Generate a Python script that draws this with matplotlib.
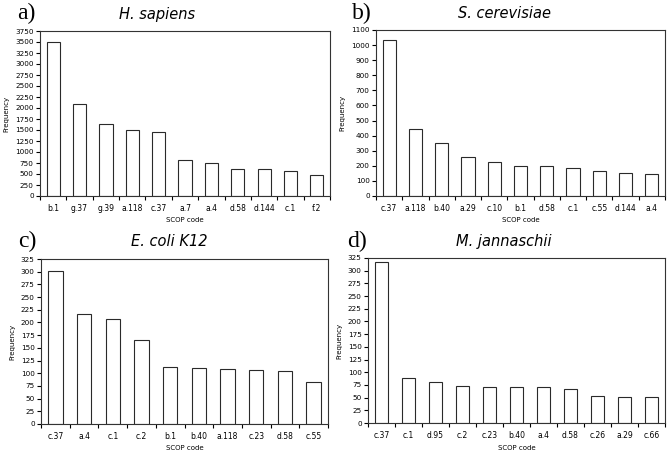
import matplotlib
matplotlib.use("Agg")
import matplotlib.pyplot as plt

# Data
titles = ["H. sapiens", "S. cerevisiae", "E. coli K12", "M. jannaschii"]
panel_labels = ["a)", "b)", "c)", "d)"]

cats_a = ["b.1", "g.37", "g.39", "a.118", "c.37", "a.7", "a.4", "d.58", "d.144", "c.1", "f.2"]
vals_a = [3510, 2090, 1630, 1495, 1465, 815, 745, 608, 608, 562, 485]

cats_b = ["c.37", "a.118", "b.40", "a.29", "c.10", "b.1", "d.58", "c.1", "c.55", "d.144", "a.4"]
vals_b = [1036, 443, 350, 257, 224, 199, 197, 184, 166, 150, 144]

cats_c = ["c.37", "a.4", "c.1", "c.2", "b.1", "b.40", "a.118", "c.23", "d.58", "c.55"]
vals_c = [302, 216, 206, 166, 113, 111, 109, 107, 105, 83]

cats_d = ["c.37", "c.1", "d.95", "c.2", "c.23", "b.40", "a.4", "d.58", "c.26", "a.29", "c.66"]
vals_d = [318, 89, 81, 73, 71, 70, 70, 67, 53, 51, 51]

yticks_a = list(range(0, 3751, 250))
yticks_b = list(range(0, 1101, 100))
yticks_c = list(range(0, 326, 25))
yticks_d = list(range(0, 326, 25))

fig = plt.figure(figsize=(6.70, 4.53), dpi=100)
W, H = 670, 453
# axes boxes in pixels: left, right, top, bottom
boxes = [(40, 330, 31, 196), (376, 665, 30, 196), (41, 328, 259, 424), (368, 665, 258, 423)]
# title centre (x, y) and panel label (x, y) in pixels
title_pos = [(157, 14), (504, 14), (169, 241), (504, 241)]
label_pos = [(17, 13), (352, 13), (18, 241), (347, 241)]
datasets = [(cats_a, vals_a, yticks_a), (cats_b, vals_b, yticks_b),
            (cats_c, vals_c, yticks_c), (cats_d, vals_d, yticks_d)]

for (l, r, t, b), (cats, vals, yt), title, pl, tp, lp in zip(
        boxes, datasets, titles, panel_labels, title_pos, label_pos):
    ax = fig.add_axes([l / W, 1 - b / H, (r - l) / W, (b - t) / H])
    n = len(cats)
    x = list(range(n))
    ax.bar(x, vals, width=0.5, color="white", edgecolor="#2a2a2a", linewidth=0.8)
    ax.set_xlim(-0.5, n - 0.5)
    ax.set_ylim(0, yt[-1])
    ax.set_yticks(yt)
    ax.set_yticklabels([str(v) for v in yt], fontsize=5.2)
    ax.set_xticks(x)
    ax.set_xticklabels(cats, fontsize=5.5)
    ax.tick_params(axis="x", length=0, pad=6)
    ax.set_xticks([i + 0.5 for i in range(-1, n)], minor=True)
    ax.tick_params(axis="x", which="minor", length=3, width=0.8, direction="out")
    ax.tick_params(axis="y", length=3, width=0.8, pad=1.5)
    for s in ax.spines.values():
        s.set_linewidth(0.8)
        s.set_color("#333333")
    ax.set_xlabel("SCOP code", fontsize=5, labelpad=3)
    ax.set_ylabel("Frequency", fontsize=5, labelpad=4)
    fig.text(tp[0] / W, 1 - tp[1] / H, title, fontsize=10.5, style="italic",
             ha="center", va="center", family="DejaVu Sans")
    fig.text(lp[0] / W, 1 - lp[1] / H, pl,
             fontsize=17, family="Liberation Serif", ha="left", va="center")

fig.savefig("out.png", dpi=100)
